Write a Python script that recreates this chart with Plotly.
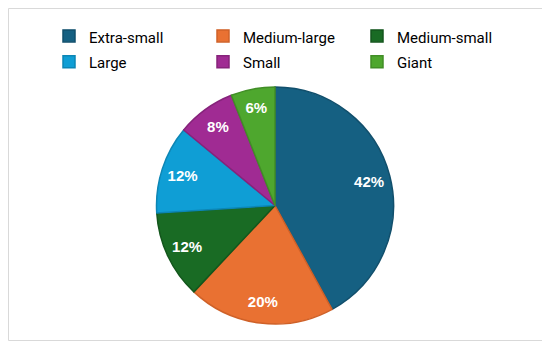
import plotly.graph_objects as go

categories = ["Extra-small", "Medium-large", "Medium-small", "Large", "Small", "Giant"]
shares = [42, 20, 12, 12, 8, 6]
fill_colors = ["#156082", "#E97132", "#196B24", "#0F9ED5", "#A02B93", "#4EA72E"]
edge_colors = ["#114f6c", "#cf6128", "#13561c", "#0c86b5", "#86237b", "#418e26"]

# the page body has an 8px margin, so the figure is drawn 8px in from the window edges
W, H = 542, 339
ML, MR, MT, MB = 0, 8, 79, 23
pw, ph = W - ML - MR, H - MT - MB

def px_x(x):
    return (x - ML) / pw

def px_y(y):
    return (H - MB - y) / ph

# legend rows are spaced from the legend font size; the visible text is set a bit smaller
legend_labels = ['<span style="font-size:15px">%s</span>' % c for c in categories]

# filled pie (no labels)
fig = go.Figure(go.Pie(
    labels=legend_labels,
    values=shares,
    sort=False,
    direction="clockwise",
    rotation=0,
    marker=dict(colors=fill_colors, line=dict(color=edge_colors, width=1.5)),
    textinfo="none",
    customdata=categories,
    hovertemplate="%{customdata}: %{percent:.0%}<extra></extra>",
    showlegend=True,
))

# label layer: same slices, transparent, with a hole so the labels sit near the rim
fig.add_trace(go.Pie(
    labels=legend_labels,
    values=shares,
    sort=False,
    direction="clockwise",
    rotation=0,
    hole=0.64,
    marker=dict(colors=["rgba(0,0,0,0)"] * len(categories),
                line=dict(color="rgba(0,0,0,0)", width=0)),
    texttemplate="%{percent:.0%}",
    textposition="inside",
    insidetextorientation="horizontal",
    insidetextfont=dict(family="Liberation Sans", size=15, color="white", weight="bold"),
    hoverinfo="skip",
    showlegend=False,
))

fig.update_layout(
    width=W, height=H,
    margin=dict(l=ML, r=MR, t=MT, b=MB, autoexpand=False),
    paper_bgcolor="white",
    plot_bgcolor="white",
    showlegend=True,
    legend=dict(
        orientation="h",
        x=px_x(41), xanchor="left",
        y=px_y(10), yanchor="top",
        entrywidth=109, entrywidthmode="pixels",
        font=dict(family="Roboto", size=17.5, color="#000000"),
        bgcolor="rgba(0,0,0,0)",
        traceorder="normal",
    ),
    shapes=[dict(
        type="rect", xref="paper", yref="paper",
        x0=px_x(0.5), x1=px_x(534.5), y0=px_y(332.5), y1=px_y(0.5),
        line=dict(color="#d9d9d9", width=1), fillcolor="rgba(0,0,0,0)", layer="below",
    )],
)

fig.write_html("out.html")
